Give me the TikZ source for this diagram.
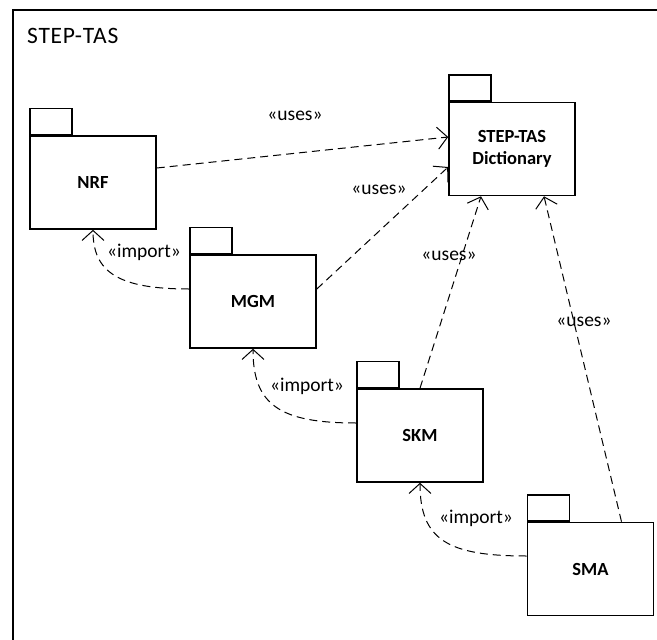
\documentclass[tikz,border=0pt]{standalone}
\usepackage{fontspec}
\setmainfont{Carlito}
\usetikzlibrary{arrows.meta}
\begin{document}
\begin{tikzpicture}[x=1pt,y=-1pt,
  pkg/.style={draw,line width=1.6pt,minimum width=126pt,minimum height=93pt,inner sep=0pt,font=\fontsize{18.5}{22}\selectfont\bfseries,align=center},
  pkgtab/.style={draw,line width=1.6pt,minimum width=42pt,minimum height=26pt,inner sep=0pt,anchor=south west},
  dep/.style={line width=1pt,dash pattern=on 8pt off 5pt,-{Straight Barb[length=10pt,width=22pt,line width=1pt]}},
  lbl/.style={font=\fontsize{19.5}{22}\selectfont,inner sep=0pt}]
\useasboundingbox (0,0) rectangle (657,640);
\fill[white] (0,0) rectangle (657,640);
% frame
\coordinate (fbl) at (13,645);
\coordinate (ftr) at (662,10);
\draw[line width=1.8pt] (fbl) |- (ftr);
\node[font=\fontsize{23.5}{26}\selectfont\addfontfeature{LetterSpace=3},anchor=west,inner sep=0pt] (title) at (27,36) {STEP-TAS};
% packages
\node[pkg] (nrf) at (93,182.5) {NRF};
\node[pkgtab] (nrftab) at (nrf.north west) {};
\node[pkg] (mgm) at (253,301.5) {MGM};
\node[pkgtab] (mgmtab) at (mgm.north west) {};
\node[pkg] (dict) at (512,149) {STEP-TAS\\Dictionary};
\node[pkgtab] (dicttab) at (dict.north west) {};
\node[pkg] (skm) at (420,435.5) {SKM};
\node[pkgtab] (skmtab) at (skm.north west) {};
\node[pkg] (sma) at (590.5,569) {SMA};
\node[pkgtab] (smatab) at (sma.north west) {};
% uses
\draw[dep] ([yshift=14.5pt]nrf.east) -- ([yshift=12pt]dict.west);
\draw[dep] ([yshift=12.5pt]mgm.east) -- ([yshift=-18pt]dict.west);
\draw[dep] (skm.north) -- ([xshift=-31pt]dict.south);
\draw[dep] ([xshift=31pt]sma.north) -- ([xshift=32pt]dict.south);
% imports
\draw[dep] ([yshift=12.5pt]mgm.west) .. controls (118,289) and (93,272) .. (nrf.south);
\draw[dep] ([yshift=12.5pt]skm.west) .. controls (280,423) and (253,405) .. (mgm.south);
\draw[dep] ([yshift=13pt]sma.west) .. controls (448,556) and (420,540) .. (skm.south);
% labels
\node[lbl] (l1) at (295,116) {«uses»};
\node[lbl] (l2) at (379,190) {«uses»};
\node[lbl] (l3) at (449,256) {«uses»};
\node[lbl] (l4) at (584,322) {«uses»};
\node[lbl] (l5) at (144,252) {«import»};
\node[lbl] (l6) at (307,386) {«import»};
\node[lbl] (l7) at (476,518) {«import»};
\end{tikzpicture}
\end{document}
